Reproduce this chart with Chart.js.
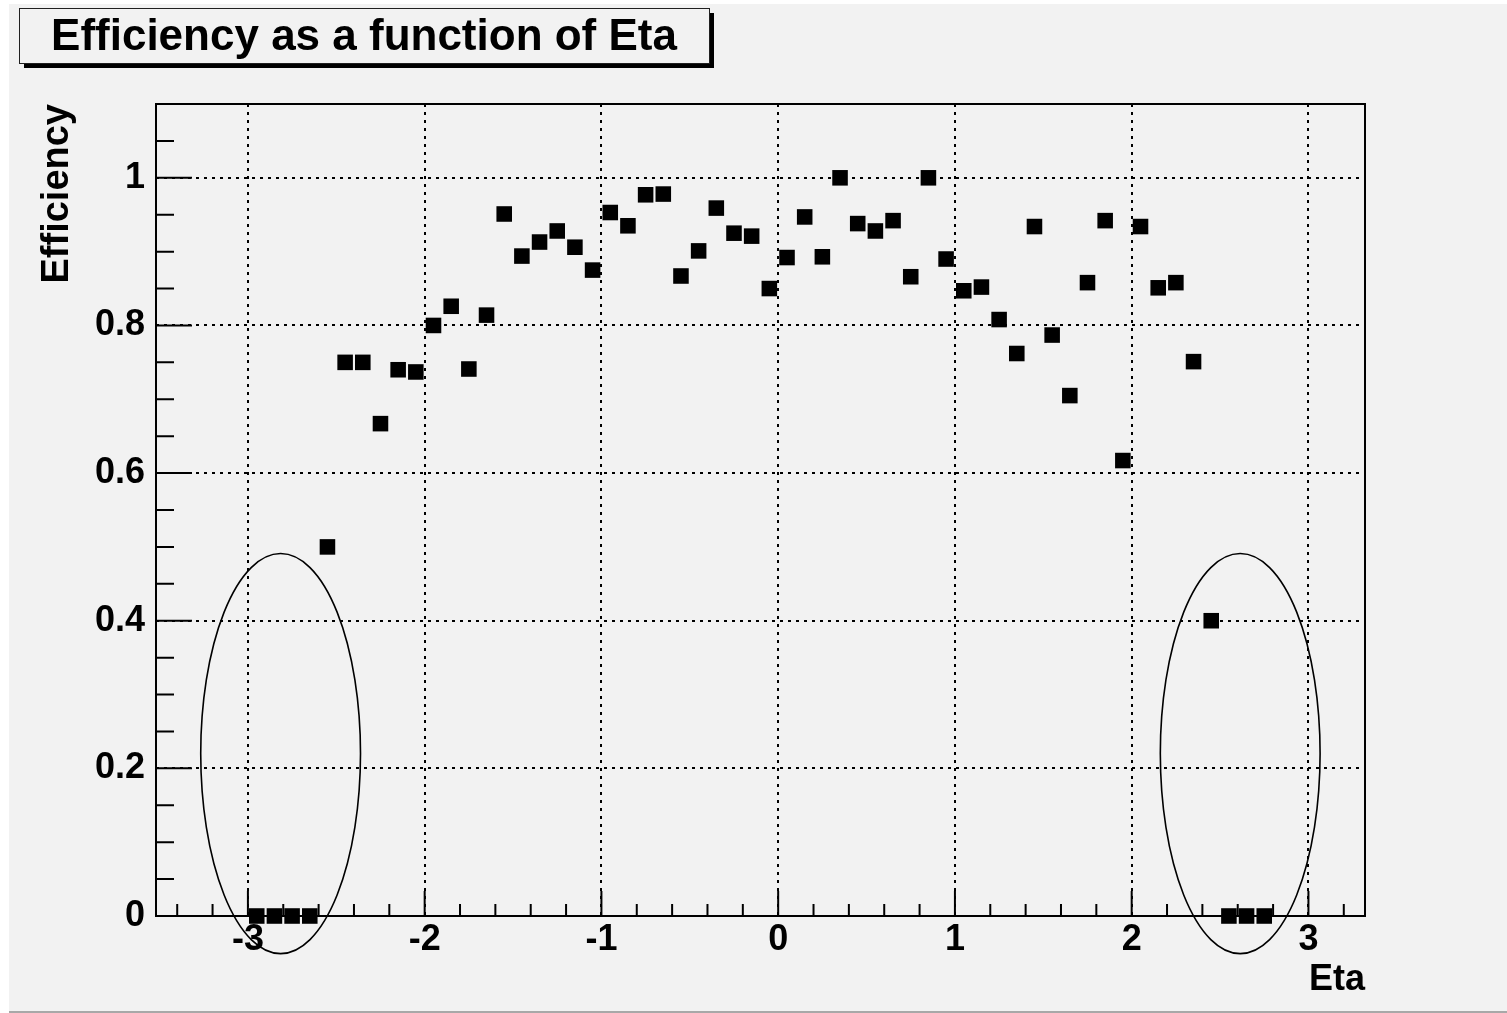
<!DOCTYPE html>
<html>
<head>
<meta charset="utf-8">
<title>Efficiency as a function of Eta</title>
<script src="https://cdn.jsdelivr.net/npm/chart.js@4.4.1/dist/chart.umd.min.js"></script>
<style>
  html, body { margin: 0; padding: 0; background: #ffffff; }
  #wrap { width: 1507px; height: 1013px; }
</style>
</head>
<body>
<div id="wrap"><canvas id="eff" width="1507" height="1013"></canvas></div>
<script>
// bin centres in eta
const etaBins = [
  -2.95, -2.85, -2.75, -2.65, -2.55, -2.45, -2.35, -2.25, -2.15, -2.05,
  -1.95, -1.85, -1.75, -1.65, -1.55, -1.45, -1.35, -1.25, -1.15, -1.05,
  -0.95, -0.85, -0.75, -0.65, -0.55, -0.45, -0.35, -0.25, -0.15, -0.05,
   0.05,  0.15,  0.25,  0.35,  0.45,  0.55,  0.65,  0.75,  0.85,  0.95,
   1.05,  1.15,  1.25,  1.35,  1.45,  1.55,  1.65,  1.75,  1.85,  1.95,
   2.05,  2.15,  2.25,  2.35,  2.45,  2.55,  2.65,  2.75
];
const efficiency = [
  0, 0, 0, 0, 0.5, 0.75, 0.75, 0.667, 0.74, 0.737,
  0.8, 0.826, 0.741, 0.814, 0.951, 0.894, 0.913, 0.928, 0.906, 0.875,
  0.953, 0.935, 0.977, 0.978, 0.867, 0.901, 0.959, 0.925, 0.921, 0.85,
  0.892, 0.947, 0.893, 1.0, 0.938, 0.928, 0.942, 0.866, 1.0, 0.89,
  0.847, 0.852, 0.808, 0.762, 0.934, 0.787, 0.705, 0.858, 0.942, 0.617,
  0.934, 0.851, 0.858, 0.751, 0.4, 0, 0, 0
];

const xMajorTicks = [-3, -2, -1, 0, 1, 2, 3];
const xTickLabels = ['-3', '-2', '-1', '0', '1', '2', '3'];
const yMajorTicks = [0, 0.2, 0.4, 0.6, 0.8, 1];
const yTickLabels = ['0', '0.2', '0.4', '0.6', '0.8', '1'];

// the two hand-drawn ellipses (centre and half axes, in axis units)
const ellipseCx = [-2.815, 2.614];
const ellipseCy = [0.22, 0.22];
const ellipseRx = [0.452, 0.452];
const ellipseRy = [0.271, 0.271];

const BG = '#f2f2f2';
const FONT = '"Liberation Sans", Arial, Helvetica, sans-serif';

function majorIndex(list, v) {
  return list.findIndex(m => Math.abs(m - v) < 1e-6);
}

function minorSteps(from, to, step) {
  const out = [];
  const n = Math.round((to - from) / step);
  for (let i = 0; i <= n; i++) out.push({ value: Math.round((from + i * step) * 1000) / 1000 });
  return out;
}

const rootStyle = {
  id: 'rootStyle',
  beforeDraw(chart) {
    const ctx = chart.ctx;
    ctx.save();
    ctx.fillStyle = '#ffffff';
    ctx.fillRect(0, 0, chart.width, chart.height);
    ctx.fillStyle = BG;
    ctx.fillRect(9, 4, chart.width - 9, chart.height - 6);
    ctx.fillStyle = '#a8a8a8';
    ctx.fillRect(9, chart.height - 2, chart.width - 9, 2);

    // title box with shadow
    ctx.fillStyle = '#000000';
    ctx.fillRect(24, 13, 690, 55);
    ctx.fillStyle = BG;
    ctx.fillRect(19, 8, 690, 55);
    ctx.strokeStyle = '#202020';
    ctx.lineWidth = 1;
    ctx.strokeRect(19.5, 8.5, 690, 55);
    ctx.fillStyle = '#000000';
    ctx.font = 'bold 44px ' + FONT;
    ctx.textAlign = 'center';
    ctx.textBaseline = 'alphabetic';
    ctx.fillText('Efficiency as a function of Eta', 364, 50);
    ctx.restore();
  },
  afterDatasetsDraw(chart) {
    const ctx = chart.ctx;
    const { left, right, top, bottom } = chart.chartArea;
    const xs = chart.scales.x, ys = chart.scales.y;
    ctx.save();

    // ellipses
    ctx.strokeStyle = '#000000';
    ctx.lineWidth = 1.6;
    for (let i = 0; i < ellipseCx.length; i++) {
      const px = xs.getPixelForValue(ellipseCx[i]);
      const py = ys.getPixelForValue(ellipseCy[i]);
      const rx = Math.abs(xs.getPixelForValue(ellipseCx[i] + ellipseRx[i]) - px);
      const ry = Math.abs(ys.getPixelForValue(ellipseCy[i] + ellipseRy[i]) - py);
      ctx.beginPath();
      ctx.ellipse(px, py, rx, ry, 0, 0, Math.PI * 2);
      ctx.stroke();
    }

    // frame
    ctx.lineWidth = 2;
    ctx.strokeRect(left, top, right - left, bottom - top);

    // tick marks inside the frame
    ctx.beginPath();
    xs.ticks.forEach(t => {
      const x = xs.getPixelForValue(t.value);
      const len = majorIndex(xMajorTicks, t.value) >= 0 ? 25 : 12;
      ctx.moveTo(x, bottom);
      ctx.lineTo(x, bottom - len);
    });
    ys.ticks.forEach(t => {
      const y = ys.getPixelForValue(t.value);
      const len = majorIndex(yMajorTicks, t.value) >= 0 ? 36 : 18;
      ctx.moveTo(left, y);
      ctx.lineTo(left + len, y);
    });
    ctx.stroke();
    ctx.restore();
  }
};

const effCtx = document.getElementById('eff').getContext('2d');

const effData = {
  datasets: [{
    label: 'Efficiency',
    data: etaBins.map((x, i) => ({ x: x, y: efficiency[i] })),
    pointStyle: 'rect',
    pointRadius: 11,
    pointHoverRadius: 11,
    backgroundColor: '#000000',
    borderColor: '#000000',
    borderWidth: 0,
    showLine: false,
    clip: false
  }]
};

const effConfig = {
  type: 'scatter',
  data: effData,
  plugins: [rootStyle],
  options: {
    responsive: false,
    animation: false,
    events: [],
    layout: {
      padding: { left: 0, right: 142, top: 104, bottom: 0 }
    },
    plugins: {
      legend: { display: false },
      title: { display: false },
      tooltip: { enabled: false }
    },
    scales: {
      x: {
        type: 'linear',
        min: -3.52,
        max: 3.32,
        afterBuildTicks(scale) { scale.ticks = minorSteps(-3.4, 3.2, 0.2); },
        afterFit(scale) { scale.height = 97; },
        grid: {
          drawTicks: false,
          lineWidth: 2,
          color: ctx => (ctx.tick && majorIndex(xMajorTicks, ctx.tick.value) >= 0) ? '#000000' : 'rgba(0,0,0,0)'
        },
        border: { display: false, dash: [3, 5] },
        ticks: {
          autoSkip: false,
          maxRotation: 0,
          padding: 2,
          color: '#000000',
          font: { family: FONT, size: 36, weight: 'bold' },
          callback(value) {
            const i = majorIndex(xMajorTicks, value);
            return i >= 0 ? xTickLabels[i] : '';
          }
        },
        title: {
          display: true,
          text: 'Eta',
          align: 'end',
          color: '#000000',
          font: { family: FONT, size: 36, weight: 'bold' },
          padding: { top: 0, bottom: 11 }
        }
      },
      y: {
        type: 'linear',
        min: 0,
        max: 1.1,
        afterBuildTicks(scale) { scale.ticks = minorSteps(0, 1.05, 0.05); },
        afterFit(scale) { scale.width = 156; },
        grid: {
          drawTicks: false,
          lineWidth: 2,
          color: ctx => (ctx.tick && majorIndex(yMajorTicks, ctx.tick.value) >= 0) ? '#000000' : 'rgba(0,0,0,0)'
        },
        border: { display: false, dash: [3, 5] },
        ticks: {
          autoSkip: false,
          padding: 11,
          color: '#000000',
          font: { family: FONT, size: 36, weight: 'bold' },
          callback(value) {
            const i = majorIndex(yMajorTicks, value);
            return i >= 0 ? yTickLabels[i] : '';
          }
        },
        title: {
          display: true,
          text: 'Efficiency',
          align: 'end',
          color: '#000000',
          font: { family: FONT, size: 38, weight: 'bold' },
          padding: { top: 35, bottom: 0 }
        }
      }
    }
  }
};

const effChart = new Chart(effCtx, effConfig);
</script>
</body>
</html>
